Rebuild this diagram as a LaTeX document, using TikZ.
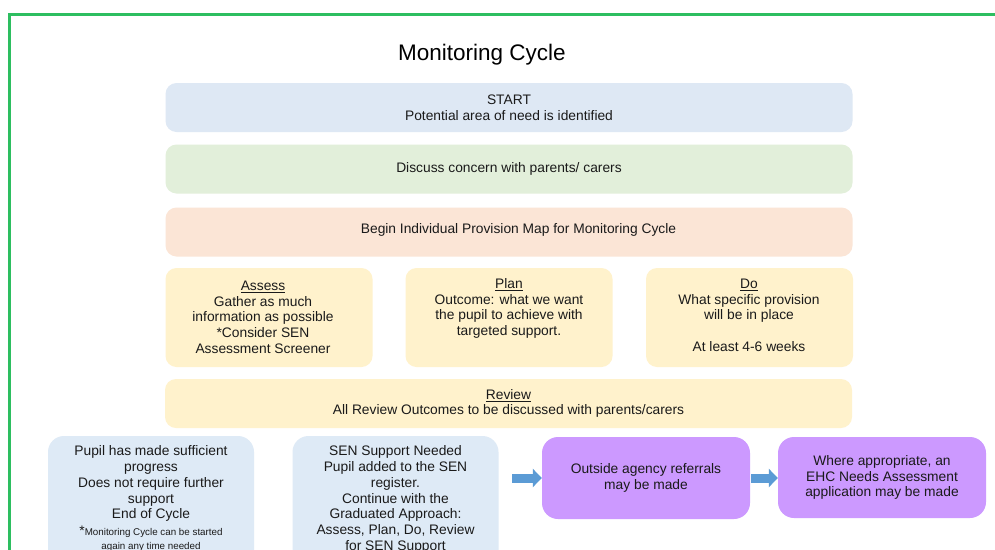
\documentclass[tikz,border=0pt]{standalone}
\usepackage{fontspec}
\setmainfont{Liberation Sans}
\usetikzlibrary{arrows.meta}
\definecolor{bordc}{HTML}{2DBE60}
\definecolor{startc}{HTML}{DEE8F4}
\definecolor{greenc}{HTML}{E2EFDA}
\definecolor{peachc}{HTML}{FBE5D6}
\definecolor{yelc}{HTML}{FFF2CC}
\definecolor{bluec}{HTML}{DEEAF6}
\definecolor{purc}{HTML}{CC99FF}
\definecolor{arrc}{HTML}{5B9BD5}
\definecolor{txtc}{HTML}{1A1A1A}
\newcommand\bodyfs{\fontsize{13.8}{15.8}\selectfont}
\newcommand\notefs{\fontsize{9.8}{14}\selectfont}
\begin{document}
\begin{tikzpicture}[x=1pt,y=-1pt,
  box/.style={rounded corners=11pt, inner sep=0pt, align=center, font=\bodyfs, text=txtc},
  lowbox/.style={box, rounded corners=16pt},
  txt/.style={inner sep=0pt, align=center, font=\bodyfs, text=txtc, anchor=north},
  blockarrow/.style={arrc, line width=9pt, -{Triangle[length=9pt,width=18pt]}}]
\useasboundingbox (0,0) rectangle (995,549);
\clip (0,0) rectangle (995,549);
\fill[white] (0,0) rectangle (995,549);
\draw[bordc, line width=3pt] (9.5,14.5) rectangle (1020,580);

\node[font=\fontsize{22.5}{26}\selectfont, inner sep=0pt, text=black] (title) at (482,54.5) {Monitoring Cycle};

\node[box, fill=startc, minimum width=687pt, minimum height=49pt] (start) at (509,107.5)
  {START\\Potential area of need is identified};
\node[box, fill=greenc, minimum width=687pt, minimum height=49pt] (discuss) at (509,169)
  {Discuss concern with parents/ carers};
\node[box, fill=peachc, minimum width=687pt, minimum height=49pt] (begin) at (509,232) {};
\node[txt, anchor=center] (begint) at (518.5,230)
  {Begin Individual Provision Map for Monitoring Cycle};

\node[box, fill=yelc, minimum width=207pt, minimum height=99pt] (assess) at (269,317.5) {};
\node[box, fill=yelc, minimum width=207pt, minimum height=99pt] (plan) at (509,317.5) {};
\node[box, fill=yelc, minimum width=207pt, minimum height=99pt] (do) at (749.5,317.5) {};
\node[txt] (assesst) at (263,280.5)
  {\underline{Assess}\\Gather as much\\information as possible\\*Consider SEN\\Assessment Screener};
\node[txt] (plant) at (509,278)
  {\underline{Plan}\\Outcome: what we want\\the pupil to achieve with\\targeted support.};
\node[txt] (dot) at (749,278.5)
  {\underline{Do}\\What specific provision\\will be in place\\[15.8pt]At least 4-6 weeks};

\node[box, fill=yelc, minimum width=687pt, minimum height=49pt] (review) at (508.5,403.5)
  {\underline{Review}\\All Review Outcomes to be discussed with parents/carers};

\node[lowbox, fill=bluec, minimum width=206pt, minimum height=140pt] (pupil) at (151,506) {};
\node[txt] (pupilt) at (151,445.5)
  {Pupil has made sufficient\\progress\\Does not require further\\support\\End of Cycle};
\node[txt, font=\notefs] (pupiln) at (151,525.5)
  {{\bodyfs*}Monitoring Cycle can be started\\again any time needed};

\node[lowbox, fill=bluec, minimum width=206pt, minimum height=140pt] (sen) at (395.5,506) {};
\node[txt] (sent) at (395.5,445.5)
  {SEN Support Needed\\Pupil added to the SEN\\register.\\Continue with the\\Graduated Approach:\\Assess, Plan, Do, Review\\for SEN Support};

\node[lowbox, fill=purc, minimum width=208pt, minimum height=82pt] (out) at (646,478)
  {Outside agency referrals\\may be made};
\node[lowbox, fill=purc, minimum width=208pt, minimum height=81pt] (where) at (882,477.5)
  {Where appropriate, an\\EHC Needs Assessment\\application may be made};

\coordinate (a1) at (512,478);
\coordinate (a2) at (751,478);
\draw[blockarrow] (a1) -- (out.west);
\draw[blockarrow] (a2) -- (where.west |- a2);
\end{tikzpicture}
\end{document}
